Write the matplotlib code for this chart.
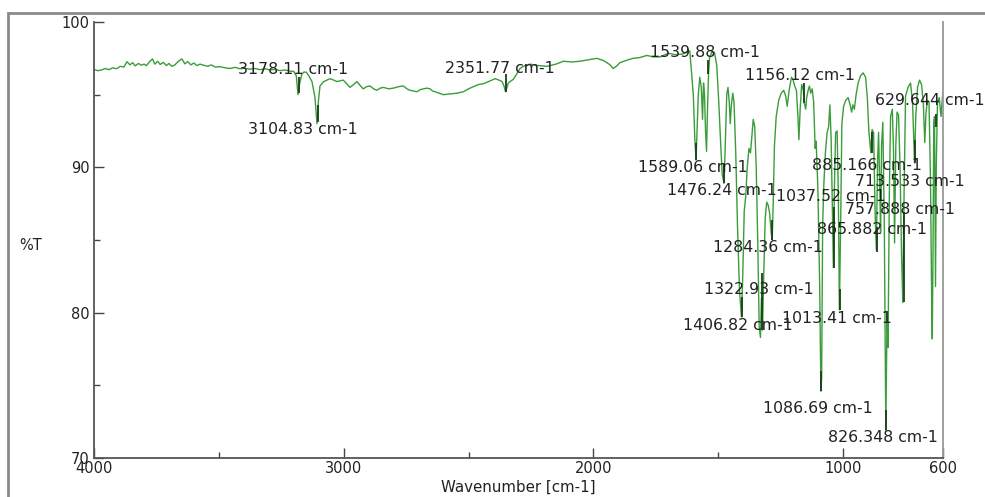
import matplotlib
matplotlib.use("Agg")
import matplotlib.pyplot as plt
from matplotlib.patches import Rectangle

# ---------------- data ----------------
wavenumber = [
    4000, 3985, 3970, 3955, 3940, 3925, 3910, 3895, 3880, 3868, 3856, 3845, 3835, 3822,
    3810, 3800, 3790, 3778, 3766, 3756, 3745, 3735, 3722, 3710, 3700, 3688, 3676, 3662,
    3648, 3636, 3625, 3612, 3600, 3588, 3575, 3560, 3545, 3530, 3515, 3495, 3475, 3455,
    3435, 3415, 3395, 3375, 3355, 3335, 3315, 3295, 3275, 3255, 3235, 3215, 3200, 3190,
    3183, 3176, 3168, 3160, 3150, 3140, 3127, 3115, 3107, 3101, 3095, 3080, 3068, 3055,
    3040, 3027, 3015, 3002, 2988, 2975, 2960, 2947, 2935, 2922, 2908, 2895, 2880, 2867,
    2854, 2841, 2820, 2801, 2780, 2761, 2747, 2734, 2720, 2707, 2693, 2680, 2667, 2654,
    2644, 2634, 2618, 2601, 2575, 2547, 2521, 2500, 2481, 2460, 2441, 2420, 2394, 2378,
    2366, 2358, 2352, 2346, 2341, 2330, 2321, 2308, 2294, 2275, 2254, 2220, 2186, 2150,
    2120, 2085, 2054, 2020, 1986, 1960, 1946, 1933, 1921, 1908, 1894, 1870, 1841, 1815,
    1786, 1760, 1733, 1700, 1670, 1641, 1614,
    1600, 1594, 1589, 1585, 1580, 1574, 1568, 1563, 1559, 1555, 1551, 1547, 1543, 1539,
    1535, 1525, 1515, 1506, 1498, 1490, 1484, 1477, 1472, 1466, 1461, 1456, 1452, 1448,
    1442, 1437, 1430, 1423, 1415, 1407, 1402, 1396, 1390, 1384, 1377, 1371, 1366, 1360,
    1354, 1348, 1342, 1336, 1331, 1327, 1323, 1318, 1312, 1306, 1300, 1294, 1288, 1284,
    1280, 1275, 1268, 1258, 1248, 1238, 1230, 1224, 1216, 1207, 1200, 1194, 1187, 1181,
    1177, 1172, 1166, 1160, 1155, 1150, 1146, 1140, 1135, 1130, 1124, 1118, 1112, 1108,
    1101, 1094, 1089, 1086, 1082, 1077, 1071, 1064, 1058, 1053, 1048, 1043, 1039, 1035,
    1030, 1024, 1019, 1015, 1010, 1005, 998, 990, 980, 972, 966, 961, 955, 948,
    940, 930, 920, 910, 903, 897, 889, 884, 878, 872, 867, 862, 858, 853,
    850, 846, 841, 835, 829, 824, 820, 815, 810, 803, 798, 794, 789, 784,
    778, 772, 766, 761, 756, 750, 740, 730, 722, 717, 714, 709, 702, 694,
    686, 679, 673, 668, 662, 656, 650, 646, 643, 640, 637, 634, 630, 627,
    622, 615, 608, 603, 600,
]
transmittance = [
    96.74, 96.65, 96.70, 96.80, 96.72, 96.85, 96.78, 96.95, 96.90, 97.27, 97.05, 97.20, 96.98, 97.15,
    97.02, 97.10, 97.00, 97.25, 97.46, 97.10, 97.30, 97.08, 97.22, 97.00, 97.15, 96.95, 97.05, 97.30,
    97.46, 97.12, 97.28, 97.05, 97.18, 97.00, 97.10, 97.02, 96.95, 97.05, 96.90, 96.92, 96.85, 96.80,
    96.88, 96.78, 96.82, 96.75, 96.80, 96.72, 96.78, 96.70, 96.74, 96.65, 96.70, 96.62, 96.60, 96.30,
    95.00, 95.80, 96.40, 96.55, 96.55, 96.30, 95.90, 94.80, 93.00, 94.60, 95.60, 95.90, 96.00, 96.10,
    96.00, 95.90, 95.95, 96.00, 95.75, 95.50, 95.70, 95.90, 95.65, 95.40, 95.55, 95.60, 95.40, 95.30,
    95.45, 95.50, 95.40, 95.45, 95.55, 95.60, 95.40, 95.30, 95.25, 95.20, 95.35, 95.40, 95.45, 95.40,
    95.25, 95.20, 95.10, 95.00, 95.05, 95.10, 95.20, 95.40, 95.55, 95.70, 95.75, 95.90, 96.10, 96.00,
    95.90, 95.60, 95.20, 95.50, 95.80, 95.95, 96.05, 96.40, 96.80, 97.00, 97.10, 97.00, 96.95, 97.10,
    97.30, 97.25, 97.30, 97.40, 97.50, 97.35, 97.20, 97.05, 96.80, 96.95, 97.20, 97.35, 97.50, 97.55,
    97.70, 97.60, 97.60, 97.85, 97.75, 97.80, 98.00,
    95.00, 92.00, 90.50, 92.50, 95.00, 96.20, 95.50, 93.30, 95.80, 95.00, 92.50, 91.10, 94.00, 96.40,
    97.50, 98.00, 97.90, 97.00, 94.50, 91.50, 89.50, 88.90, 91.50, 95.00, 95.50, 94.50, 93.00, 94.20,
    95.10, 94.50, 91.00, 86.00, 81.50, 79.70, 82.50, 87.00, 88.00, 90.00, 91.30, 91.00, 92.00, 93.30,
    92.80, 90.00, 85.00, 79.00, 78.30, 81.00, 78.80, 82.50, 86.50, 87.60, 87.40, 86.80, 85.50, 85.00,
    87.50, 91.50, 93.50, 94.60, 95.10, 95.30, 94.90, 94.20, 95.30, 96.20, 96.00, 95.60, 95.30, 93.50,
    91.90, 94.00, 95.70, 95.40, 94.40, 94.00, 94.80, 95.30, 95.60, 95.10, 95.40, 94.50, 91.30, 91.80,
    88.50, 82.00, 74.60, 75.50, 86.00, 88.90, 91.00, 92.40, 92.80, 94.30, 92.00, 87.00, 83.10, 88.50,
    92.40, 92.50, 88.00, 80.20, 86.00, 93.00, 94.20, 94.60, 94.80, 94.30, 93.80, 94.30, 94.00, 95.00,
    95.80, 96.30, 96.50, 96.20, 94.80, 92.50, 91.00, 92.60, 92.40, 87.00, 84.30, 90.50, 92.40, 88.50,
    85.50, 91.50, 93.10, 86.00, 71.90, 80.00, 77.60, 88.00, 93.50, 94.00, 91.00, 84.80, 91.50, 93.80,
    93.60, 90.00, 84.00, 80.70, 88.00, 94.90, 95.50, 95.80, 94.50, 92.00, 90.30, 93.50, 95.50, 96.00,
    95.70, 94.50, 91.70, 93.80, 94.60, 94.50, 89.00, 82.00, 78.20, 84.00, 93.00, 93.50, 81.80, 90.00,
    94.50, 94.80, 93.50, 94.70, 95.20,
]

# peak labels: text, label anchor (left edge wavenumber, %T), marker segment (wn, T_top, T_bottom)
peak_labels = ["3178.11 cm-1", "3104.83 cm-1", "2351.77 cm-1", "1539.88 cm-1", "1156.12 cm-1",
               "629.644 cm-1", "1589.06 cm-1", "885.166 cm-1", "713.533 cm-1", "1476.24 cm-1",
               "1037.52 cm-1", "757.888 cm-1", "865.882 cm-1", "1284.36 cm-1", "1322.93 cm-1",
               "1406.82 cm-1", "1013.41 cm-1", "1086.69 cm-1", "826.348 cm-1"]
label_x = [3423, 3383, 2594, 1773, 1393, 872, 1821, 1125, 952, 1705,
           1269, 992, 1104, 1521, 1557, 1641, 1245, 1321, 1060]
label_y = [96.7, 92.6, 96.8, 97.9, 96.3, 94.6, 90.0, 90.1, 89.0, 88.4,
           88.0, 87.1, 85.7, 84.5, 81.6, 79.1, 79.6, 73.4, 71.4]
marker_wn = [3178.11, 3104.83, 2351.77, 1539.88, 1156.12, 629.644, 1589.06, 885.166, 713.533,
             1476.24, 1037.52, 757.888, 865.882, 1284.36, 1322.93, 1406.82, 1013.41, 1086.69, 826.348]
marker_top = [96.2, 94.3, 96.4, 97.4, 95.8, 93.7, 91.7, 92.4, 91.9,
              90.3, 87.3, 86.9, 85.9, 86.4, 82.7, 81.1, 81.6, 76.0, 73.3]
marker_bot = [95.1, 93.1, 95.2, 96.4, 94.4, 92.8, 90.5, 91.0, 90.3,
              88.9, 83.1, 80.7, 84.2, 85.0, 78.8, 79.7, 80.2, 74.6, 71.9]

x_major = [4000, 3000, 2000, 1000, 600]
x_minor = [3500, 2500, 1500]
y_major = [70, 80, 90, 100]
y_minor = [75, 85, 95]

# ---------------- figure ----------------
plt.rcParams['font.family'] = ['DejaVu Sans']
fig = plt.figure(figsize=(9.85, 4.97), dpi=100)
fig.patch.set_facecolor('white')

# outer frame
fig.patches.append(Rectangle((8 / 985, -0.2), 1.2, 1.2 - 13 / 497,
                             transform=fig.transFigure, fill=False,
                             edgecolor='#8a8a8a', linewidth=2.0))

ax = fig.add_axes([94 / 985, 39 / 497, 849 / 985, 436 / 497])
ax.plot(wavenumber, transmittance, color='#3a9c3a', linewidth=1.0)
ax.vlines(marker_wn, marker_bot, marker_top, color='#1c3d1c', linewidth=1.3)

for txt, lx, ly in zip(peak_labels, label_x, label_y):
    ax.text(lx, ly, txt, ha='left', va='center', fontsize=11.3, color='#222222', clip_on=False)

ax.set_xlim(4000, 600)
ax.set_ylim(70, 100)
ax.set_xticks(x_major)
ax.set_xticks(x_minor, minor=True)
ax.set_yticks(y_major)
ax.set_yticks(y_minor, minor=True)
ax.tick_params(which='both', direction='in', colors='#444444', labelcolor='#222222', labelsize=10.5)
ax.tick_params(which='major', length=7, width=1.0)
ax.tick_params(which='minor', length=4, width=1.0)
ax.tick_params(axis='x', pad=2)
ax.tick_params(axis='y', pad=3)

ax.spines['top'].set_visible(False)
ax.spines['right'].set_color('#999999')
ax.spines['left'].set_color('#555555')
ax.spines['bottom'].set_color('#555555')
for s in ['left', 'bottom', 'right']:
    ax.spines[s].set_linewidth(1.3)

ax.set_xlabel('Wavenumber [cm-1]', fontsize=10.8, color='#222222', labelpad=3)
ax.set_ylabel('%T', fontsize=10.5, color='#222222', rotation=0, ha='center', va='center')
ax.yaxis.set_label_coords((31 - 94) / 849, (458 - 245) / 436)

fig.savefig('out.png', dpi=100, facecolor='white')
